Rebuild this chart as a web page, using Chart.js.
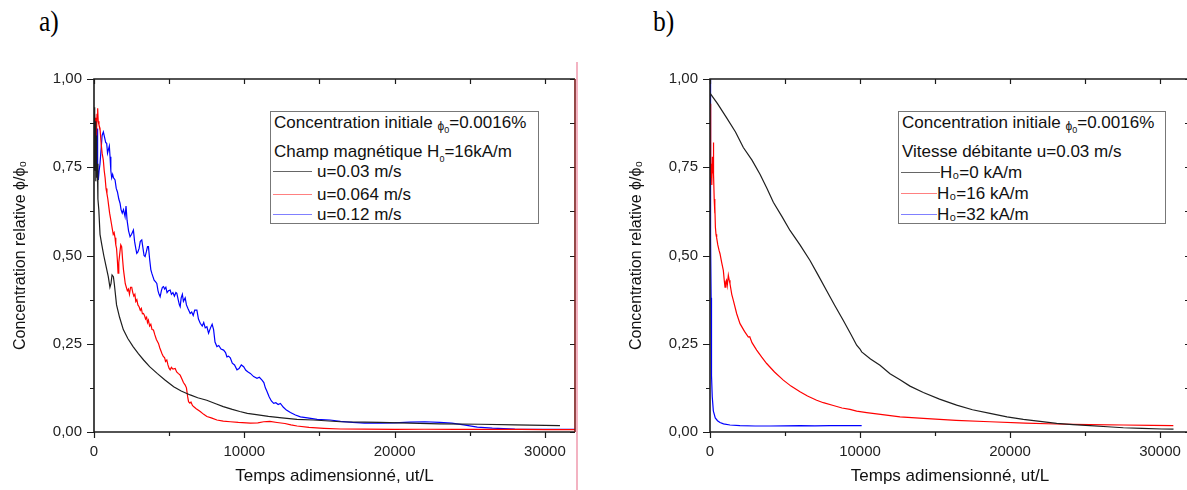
<!DOCTYPE html>
<html>
<head>
<meta charset="utf-8">
<script src="https://cdn.jsdelivr.net/npm/chart.js@4.4.1/dist/chart.umd.min.js"></script>
<style>
  body { margin: 0; width: 1187px; height: 490px; overflow: hidden; position: relative; background: #fff; }
  canvas { position: absolute; top: 0; }
  .lab { position: absolute; top: 4px; font: 30px 'Liberation Serif', 'Times New Roman', serif; color: #000; transform: scaleX(0.85); transform-origin: left top; }
  .legend { position: absolute; border: 1px solid #777; background: #fff; font: 17px Arial, 'Liberation Sans', sans-serif; color: #111; z-index: 2; }
  .legend .row { position: absolute; left: 3px; line-height: 20px; white-space: nowrap; }
  .legend .smp { display: inline-block; vertical-align: middle; height: 0; border-top: 1px solid; margin-left: -1px; position: relative; top: -1px; }
  .legend .phi { font-size: 12px; vertical-align: -2px; line-height: 0; }
  .legend sub { font-size: 9px; vertical-align: -5px; line-height: 0; }
  .edge { position: absolute; left: 576px; top: 62px; width: 2px; height: 428px; background: #f3b3c2; }
</style>
</head>
<body>
<div class="lab" style="left:39px">a)</div>
<div class="lab" style="left:653px">b)</div>
<canvas id="chartA" width="595" height="490" style="left:0"></canvas>
<canvas id="chartB" width="579" height="490" style="left:616px"></canvas>
<div class="edge"></div>

<div class="legend" id="legA" style="left:270px;top:111px;width:267px;height:111px">
  <div class="row" style="top:1px">Concentration initiale <span class="phi">ϕ</span><sub>0</sub>=0.0016%</div>
  <div class="row" style="top:30px">Champ magnétique H<sub>0</sub>=16kA/m</div>
</div>
<div class="legend" id="legB" style="left:898px;top:111px;width:266px;height:111px">
  <div class="row" style="top:1px">Concentration initiale <span class="phi">ϕ</span><sub>0</sub>=0.0016%</div>
  <div class="row" style="top:30px">Vitesse débitante u=0.03 m/s</div>
</div>

<script>
// ---- data (x = ut/L, y = phi/phi0) ----
const xTickValues = [0, 5000, 10000, 15000, 20000, 25000, 30000];
const xTickLabels = ['0', '10000', '20000', '30000'];
const yTickValues = [0, 0.125, 0.25, 0.375, 0.5, 0.625, 0.75, 0.875, 1];
const yTickLabels = ['0,00', '0,25', '0,50', '0,75', '1,00'];

const labelsA = ['u=0.03 m/s', 'u=0.064 m/s', 'u=0.12 m/s'];
const labelsB = ['H₀=0 kA/m', 'H₀=16 kA/m', 'H₀=32 kA/m'];

// panel a : H0 = 16 kA/m, three flow speeds
const aSlow = [[0,0.80],[30,0.92],[60,0.74],[90,0.88],[120,0.71],[150,0.84],[180,0.72],[220,0.76],[260,0.66],[320,0.63],
  [400,0.56],[520,0.53],[650,0.50],[800,0.47],[950,0.44],[1060,0.41],[1130,0.42],[1200,0.445],[1290,0.44],[1350,0.42],
  [1500,0.36],[1700,0.325],[1950,0.29],[2250,0.265],[2600,0.242],[2950,0.222],[3300,0.204],[3700,0.185],[4200,0.166],
  [4700,0.148],[5300,0.128],[5800,0.116],[6400,0.105],[6900,0.097],[7500,0.09],[8100,0.08],[8600,0.072],[9200,0.064],
  [9700,0.058],[10200,0.053],[10800,0.049],[11600,0.044],[12500,0.04],[13500,0.036],[14600,0.034],[16400,0.029],
  [18000,0.028],[19000,0.027],[21000,0.025],[23000,0.023],[25700,0.022],[28000,0.02],[31000,0.018]];

const aMid = [[0,0.86],[40,0.90],[80,0.84],[120,0.89],[160,0.83],[200,0.90],[244,0.917],[280,0.88],[330,0.87],[400,0.86],
  [470,0.82],[540,0.79],[620,0.77],[680,0.74],[740,0.72],[800,0.69],[860,0.675],[920,0.66],[980,0.64],[1040,0.62],
  [1100,0.605],[1160,0.59],[1220,0.575],[1280,0.56],[1340,0.565],[1400,0.55],[1450,0.53],[1500,0.52],[1550,0.49],
  [1600,0.45],[1650,0.48],[1700,0.50],[1780,0.53],[1840,0.525],[1900,0.49],[1960,0.46],[2020,0.44],[2080,0.42],
  [2150,0.41],[2220,0.40],[2290,0.405],[2360,0.39],[2430,0.41],[2510,0.41],[2580,0.395],[2650,0.385],[2720,0.39],
  [2780,0.37],[2850,0.375],[2920,0.36],[3000,0.355],[3080,0.345],[3150,0.35],[3220,0.335],[3290,0.336],[3360,0.33],
  [3430,0.32],[3500,0.325],[3560,0.31],[3620,0.317],[3700,0.30],[3780,0.305],[3860,0.29],[3956,0.289],[4050,0.275],
  [4150,0.262],[4289,0.251],[4380,0.238],[4450,0.23],[4511,0.223],[4600,0.215],[4700,0.21],[4760,0.20],[4844,0.204],
  [4920,0.19],[5000,0.18],[5067,0.176],[5150,0.183],[5250,0.178],[5400,0.18],[5500,0.17],[5600,0.166],[5733,0.161],
  [5850,0.15],[5950,0.14],[6067,0.133],[6150,0.125],[6230,0.10],[6289,0.086],[6380,0.082],[6450,0.085],[6550,0.075],
  [6622,0.072],[6800,0.066],[7067,0.058],[7300,0.05],[7511,0.044],[7800,0.04],[8178,0.034],[8600,0.031],[9067,0.029],
  [9600,0.027],[10400,0.025],[10900,0.026],[11289,0.029],[11700,0.03],[12178,0.027],[12700,0.024],[13100,0.02],
  [13511,0.017],[14300,0.013],[15289,0.0104],[16400,0.0085],[18000,0.008],[20000,0.0075],[22000,0.0078],
  [24000,0.0075],[26000,0.0072],[28400,0.0075],[30000,0.007],[32000,0.007]];

const aFast = [[0,0.87],[40,0.89],[80,0.85],[120,0.88],[160,0.80],[200,0.86],[240,0.75],[289,0.714],[340,0.74],[400,0.76],
  [470,0.80],[540,0.84],[622,0.85],[700,0.835],[780,0.82],[844,0.818],[900,0.79],[960,0.80],[1020,0.81],[1067,0.78],
  [1120,0.74],[1178,0.72],[1240,0.73],[1300,0.72],[1400,0.714],[1480,0.69],[1560,0.68],[1650,0.66],[1733,0.648],
  [1800,0.63],[1880,0.62],[1960,0.63],[2067,0.61],[2130,0.64],[2200,0.60],[2300,0.57],[2400,0.553],[2500,0.56],
  [2622,0.572],[2700,0.54],[2780,0.52],[2844,0.506],[2920,0.51],[3000,0.52],[3080,0.54],[3178,0.544],[3260,0.52],
  [3330,0.50],[3400,0.497],[3480,0.51],[3560,0.525],[3622,0.525],[3700,0.49],[3780,0.46],[3844,0.45],[3920,0.44],
  [4000,0.43],[4100,0.425],[4178,0.421],[4260,0.40],[4330,0.39],[4400,0.383],[4480,0.40],[4550,0.41],[4622,0.412],
  [4700,0.405],[4780,0.41],[4860,0.395],[4950,0.40],[5067,0.402],[5150,0.39],[5250,0.395],[5350,0.385],[5450,0.395],
  [5511,0.393],[5600,0.375],[5680,0.36],[5733,0.355],[5800,0.38],[5880,0.39],[5950,0.37],[6067,0.38],[6150,0.36],
  [6250,0.35],[6400,0.336],[6500,0.34],[6600,0.33],[6700,0.345],[6844,0.345],[6950,0.32],[7067,0.308],[7200,0.30],
  [7300,0.31],[7400,0.295],[7511,0.298],[7622,0.28],[7750,0.295],[7860,0.305],[7956,0.29],[8050,0.255],[8178,0.242],
  [8300,0.245],[8450,0.235],[8622,0.232],[8750,0.225],[8844,0.213],[8950,0.215],[9067,0.21],[9200,0.195],[9350,0.19],
  [9511,0.176],[9650,0.18],[9800,0.19],[9956,0.185],[10100,0.175],[10250,0.17],[10400,0.166],[10622,0.157],
  [10844,0.152],[11000,0.155],[11178,0.147],[11300,0.14],[11400,0.125],[11511,0.115],[11650,0.10],[11800,0.088],
  [11956,0.081],[12100,0.083],[12250,0.078],[12400,0.081],[12600,0.07],[12800,0.062],[13067,0.055],[13400,0.048],
  [13733,0.043],[14200,0.04],[14844,0.036],[15700,0.034],[16400,0.03],[17200,0.027],[18000,0.025],[19000,0.025],
  [20000,0.026],[21000,0.028],[22000,0.029],[23000,0.027],[23800,0.025],[24600,0.02],[25500,0.014],[26500,0.011],
  [28000,0.008],[30000,0.0075],[32000,0.0075]];

// panel b : u = 0.03 m/s, three field strengths
const bH0 = [[0,0.96],[500,0.93],[1111,0.89],[1700,0.85],[2222,0.806],[2800,0.77],[3333,0.73],[3800,0.69],[4222,0.651],
  [4800,0.61],[5333,0.571],[6000,0.53],[6667,0.486],[7200,0.445],[7778,0.40],[8300,0.36],[8889,0.316],[9400,0.276],
  [9778,0.246],[10000,0.235],[10111,0.227],[10700,0.207],[11333,0.189],[12000,0.165],[12667,0.148],[13333,0.13],
  [14222,0.112],[15300,0.093],[16444,0.076],[17500,0.063],[18667,0.053],[19800,0.043],[20889,0.036],[22000,0.03],
  [23111,0.0245],[24200,0.021],[25333,0.0179],[26500,0.0148],[27556,0.012],[28800,0.01],[30111,0.0085],[30900,0.008]];

const bH16 = [[0,0.93],[30,0.80],[60,0.72],[90,0.76],[120,0.70],[160,0.78],[200,0.74],[222,0.82],[250,0.73],[280,0.66],
  [310,0.62],[333,0.64],[360,0.58],[400,0.56],[444,0.55],[520,0.53],[600,0.515],[667,0.505],[780,0.48],[889,0.458],
  [950,0.43],[1000,0.41],[1050,0.425],[1100,0.43],[1150,0.415],[1222,0.444],[1280,0.43],[1333,0.42],[1450,0.39],
  [1556,0.373],[1780,0.335],[2000,0.307],[2300,0.285],[2556,0.269],[2650,0.27],[2800,0.253],[3111,0.232],[3450,0.212],
  [3778,0.194],[4300,0.17],[4889,0.147],[5400,0.13],[6000,0.114],[6500,0.102],[7111,0.09],[7556,0.083],[8222,0.075],
  [8800,0.068],[9333,0.064],[9778,0.059],[10444,0.055],[11500,0.049],[12667,0.043],[14222,0.0386],[16400,0.033],
  [18667,0.029],[21000,0.025],[23111,0.0226],[25300,0.021],[27556,0.0198],[29500,0.0185],[30889,0.0179]];

const bH32 = [[0,1.0],[15,0.99],[30,0.93],[45,0.75],[60,0.55],[75,0.38],[90,0.28],[111,0.16],[150,0.10],[222,0.06],
  [350,0.04],[500,0.032],[667,0.027],[900,0.023],[1333,0.0198],[2000,0.018],[3000,0.017],[4000,0.017],[5000,0.0175],
  [6000,0.018],[7000,0.0175],[8000,0.018],[9000,0.0178],[10111,0.018]];

const seriesColors = ['#1e1e1e', '#ff0000', '#0000ff'];
const legendColors = ['#666666', '#ff8080', '#8080ff'];
const FONT = "Arial, 'Liberation Sans', sans-serif";

// draws the frame and the Origin-style ticks (out on bottom/left, in on top/right)
const frameTicks = {
  id: 'frameTicks',
  afterDatasetsDraw(chart, args, opts) {
    const { ctx, chartArea: a, scales: { x, y } } = chart;
    ctx.save();
    ctx.strokeStyle = '#1b1b1b';
    ctx.lineWidth = 1.2;
    ctx.beginPath();
    x.ticks.forEach(t => {
      const px = Math.round(x.getPixelForValue(t.value)) + 0.5;
      const major = t.label !== '';
      ctx.moveTo(px, a.bottom); ctx.lineTo(px, a.bottom + (major ? 6 : 4));
      ctx.moveTo(px, a.top); ctx.lineTo(px, a.top + 5);
    });
    y.ticks.forEach(t => {
      const py = Math.round(y.getPixelForValue(t.value)) + 0.5;
      const major = t.label !== '';
      ctx.moveTo(a.left, py); ctx.lineTo(a.left - (major ? 7 : 4), py);
      ctx.moveTo(a.right, py); ctx.lineTo(a.right - 5, py);
    });
    ctx.stroke();
    ctx.lineWidth = 1.6;
    ctx.beginPath();
    ctx.moveTo(a.right, a.top); ctx.lineTo(a.left, a.top);
    ctx.lineTo(a.left, a.bottom); ctx.lineTo(a.right, a.bottom);
    ctx.stroke();
    ctx.strokeStyle = opts.rightColor || '#1b1b1b';
    ctx.beginPath();
    ctx.moveTo(a.right, a.top); ctx.lineTo(a.right, a.bottom);
    ctx.stroke();
    ctx.restore();
  }
};

function makeChart(id, sets, labels, xMax, padRight, rightColor) {
  return new Chart(document.getElementById(id), {
    type: 'scatter',
    data: {
      datasets: sets.map((s, i) => ({
        label: labels[i],
        data: s.map(p => ({ x: p[0], y: p[1] })),
        showLine: true,
        borderColor: seriesColors[i],
        borderWidth: 1.2,
        pointRadius: 0,
        tension: 0
      }))
    },
    options: {
      responsive: false,
      animation: false,
      devicePixelRatio: 1,
      layout: { padding: { top: 79, right: padRight, left: 0, bottom: 0 } },
      plugins: { legend: { display: false }, tooltip: { enabled: false }, frameTicks: { rightColor } },
      scales: {
        x: {
          type: 'linear', min: 0, max: xMax,
          grid: { display: false, drawTicks: false },
          border: { display: false },
          afterBuildTicks: s => { s.ticks = xTickValues.map(v => ({ value: v })); },
          ticks: {
            autoSkip: false, maxRotation: 0, padding: 11,
            color: '#222', font: { family: FONT, size: 15 },
            callback: v => xTickLabels.includes(String(v)) ? String(v) : ''
          },
          title: {
            display: true, text: 'Temps adimensionné, ut/L', color: '#111',
            font: { family: FONT, size: 17 },
            padding: { top: 0, bottom: 3 }
          },
          afterFit: s => { s.height = 58; }
        },
        y: {
          type: 'linear', min: 0, max: 1,
          grid: { display: false, drawTicks: false },
          border: { display: false },
          afterBuildTicks: s => { s.ticks = yTickValues.map(v => ({ value: v })); },
          ticks: {
            autoSkip: false, padding: 12,
            color: '#222', font: { family: FONT, size: 15 },
            callback: v => {
              const s = v.toFixed(2).replace('.', ',');
              return yTickLabels.includes(s) ? s : '';
            }
          },
          title: {
            display: true, text: 'Concentration relative ϕ/ϕ₀', color: '#111',
            font: { family: FONT, size: 16 },
            padding: { top: 11, bottom: 0 }
          },
          afterFit: s => { s.width = 94; }
        }
      }
    },
    plugins: [frameTicks]
  });
}

makeChart('chartA', [aSlow, aMid, aFast], labelsA, 32000, 20, '#7a1a1a');
makeChart('chartB', [bH0, bH16, bH32], labelsB, 32000, 5, '#1b1b1b');

// legend entries under the two header lines
function addEntries(boxId, labels, tops, widths, gap) {
  const box = document.getElementById(boxId);
  labels.forEach((txt, i) => {
    const row = document.createElement('div');
    row.className = 'row';
    row.style.top = tops[i] + 'px';
    const smp = document.createElement('span');
    smp.className = 'smp';
    smp.style.borderColor = legendColors[i];
    smp.style.width = widths[i] + 'px';
    smp.style.marginRight = gap + 'px';
    row.appendChild(smp);
    row.appendChild(document.createTextNode(txt));
    box.appendChild(row);
  });
}
addEntries('legA', labelsA, [50, 73, 93], [39, 39, 39], 5);
addEntries('legB', labelsB, [51, 72, 93], [39, 36, 36], 0);
</script>
</body>
</html>
